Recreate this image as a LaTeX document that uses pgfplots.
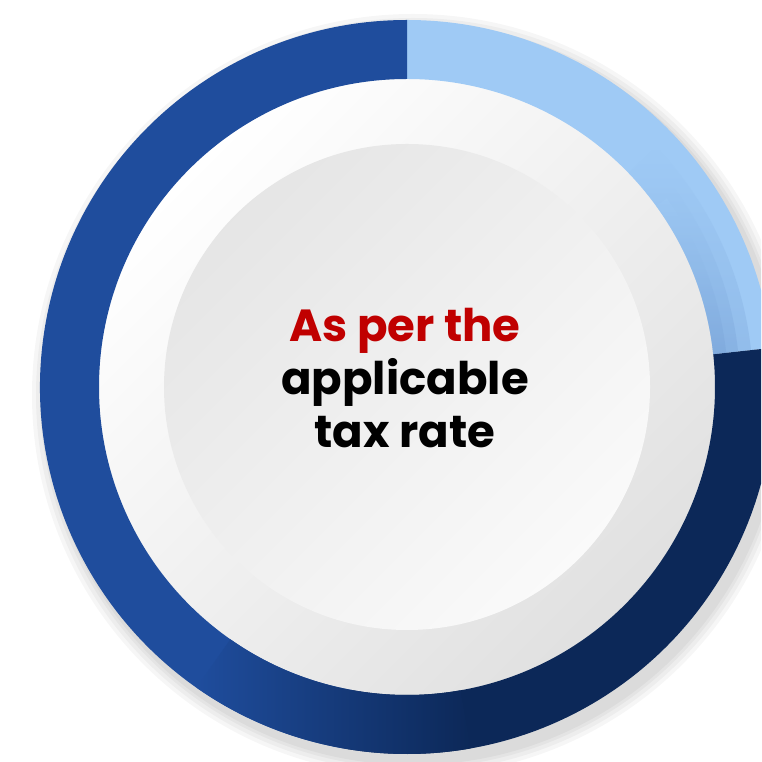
\documentclass[border=0pt]{standalone}
\usepackage{pgfplots}
\pgfplotsset{compat=1.18}
\usepackage{pgfplotstable}
\usepackage{fontspec}
\setmainfont{Poppins}
\definecolor{lblue}{HTML}{9FCAF5}
\definecolor{lshadow}{HTML}{6E98CF}
\definecolor{dblue}{HTML}{0C2858}
\definecolor{mblue}{HTML}{1F4D9D}
\definecolor{tred}{HTML}{C00000}
\pgfplotstableread{
seg share
light 23.3
dark 29.5
medium 47.2
}\segtable
\pgfplotstablegetelem{0}{share}\of\segtable \let\sA\pgfplotsretval
\pgfplotstablegetelem{1}{share}\of\segtable \let\sB\pgfplotsretval
\pgfplotstablegetelem{2}{share}\of\segtable \let\sC\pgfplotsretval
\pgfmathsetmacro{\aA}{90}
\pgfmathsetmacro{\aB}{90-3.6*\sA}
\pgfmathsetmacro{\aC}{\aB-3.6*\sB}
\pgfmathsetmacro{\aD}{\aC-3.6*\sC}
\newcommand{\sector}[3]{\path[#1] (axis cs:407,375) ++(#2:367pt) arc[start angle=#2,end angle=#3,radius=367pt] -- ++(#3:-59pt) arc[start angle=#3,end angle=#2,radius=308pt] -- cycle;}
\newcommand{\band}[4]{\path[#1] (axis cs:407,375) ++(#2:#4) arc[start angle=#2,end angle=#3,radius=#4] -- ++(#3:{308pt-#4}) arc[start angle=#3,end angle=#2,radius=308pt] -- cycle;}
\begin{document}%
\begin{tikzpicture}
\begin{axis}[x=1pt,y=1pt,xmin=0,xmax=761,ymin=0,ymax=762,hide axis,clip=true]
\coordinate (SW) at (axis cs:0,0);
\coordinate (NE) at (axis cs:761,762);
\fill[white] (axis cs:0,0) rectangle (axis cs:761,762);
% soft shadow
\pgfplotsinvokeforeach{381,377,373,370}{
  \fill[black,opacity=0.035] (axis cs:413,367) circle[radius=#1pt];
}
% discs
\shade[top color=white,bottom color=black!12,shading angle=45] (axis cs:407,375) circle[radius=310pt];
\shade[top color=black!10,bottom color=black!2,shading angle=45] (axis cs:407,375) circle[radius=243pt];
% ring segments
\sector{fill=lblue}{\aA}{\aB}
\sector{fill=dblue}{\aB}{\aC}
\sector{fill=mblue}{\aC}{\aD}
\sector{left color=mblue,right color=dblue}{-80}{-125}
% shadow at end of light segment
\band{top color=lblue,bottom color=lshadow,opacity=0.3}{44}{\aB}{346pt}
\band{top color=lblue,bottom color=lshadow,opacity=0.35}{40}{\aB}{333pt}
\band{top color=lblue,bottom color=lshadow,opacity=0.4}{36}{\aB}{321pt}
% text
\node[anchor=base,text=tred,font=\fontsize{45}{50}\selectfont\bfseries] at (axis cs:405,420) {As per the};
\node[anchor=base,text=black,font=\fontsize{45}{50}\selectfont\bfseries] at (axis cs:405,367) {applicable};
\node[anchor=base,text=black,font=\fontsize{45}{50}\selectfont\bfseries] at (axis cs:405,314) {tax rate};
\end{axis}
\pgfresetboundingbox
\path[use as bounding box] (SW) rectangle (NE);
\end{tikzpicture}%
\end{document}
